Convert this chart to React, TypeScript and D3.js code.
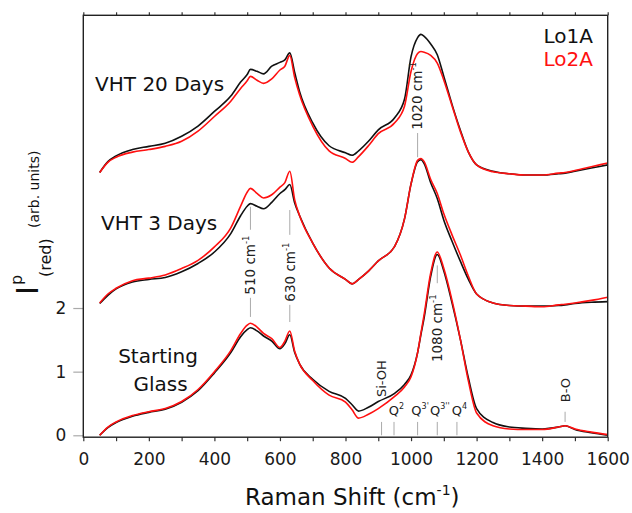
import React, { useRef, useEffect } from "react";
import * as d3 from "d3";

const W = 632;
const H = 513;

// Raman shift sample points (cm-1), shared by all spectra
const shifts = [
  50, 75, 100, 150, 200, 250, 300, 350, 400, 450, 480, 500, 510, 530, 550, 575,
  600, 615, 630, 645, 660, 700, 750, 800, 820, 840, 870, 900, 950, 980, 1000,
  1020, 1030, 1040, 1060, 1080, 1100, 1125, 1150, 1175, 1200, 1250, 1300, 1350,
  1400, 1450, 1470, 1500, 1550, 1600,
];

// Starting glass (offset 0)
const glassLo1A = [
  0, 0.12, 0.2, 0.3, 0.36, 0.41, 0.52, 0.7, 0.98, 1.3, 1.55, 1.66, 1.69, 1.64,
  1.56, 1.48, 1.36, 1.44, 1.58, 1.3, 1.12, 0.88, 0.69, 0.58, 0.48, 0.38, 0.44,
  0.53, 0.66, 0.8, 0.95, 1.3, 1.58, 1.85, 2.5, 2.84, 2.58, 2.08, 1.52, 0.9,
  0.42, 0.2, 0.13, 0.11, 0.1, 0.13, 0.15, 0.09, 0.04, 0.0,
];
const glassLo2A = [
  0, 0.13, 0.21, 0.31, 0.37, 0.42, 0.53, 0.72, 1.0, 1.33, 1.6, 1.73, 1.76, 1.7,
  1.6, 1.52, 1.38, 1.48, 1.64, 1.32, 1.12, 0.86, 0.63, 0.52, 0.4, 0.27, 0.33,
  0.42, 0.61, 0.76, 0.92, 1.3, 1.6, 1.9, 2.55, 2.88, 2.62, 2.12, 1.52, 0.85,
  0.35, 0.15, 0.1, 0.09, 0.09, 0.13, 0.15, 0.1, 0.05, 0.01,
];

// VHT 3 days
const vht3Lo1A = [
  2.07, 2.2, 2.3, 2.41, 2.45, 2.48, 2.57, 2.7, 2.88, 3.17, 3.45, 3.6, 3.64, 3.6,
  3.56, 3.66, 3.8, 3.86, 3.94, 3.65, 3.45, 3.02, 2.63, 2.45, 2.38, 2.45, 2.58,
  2.74, 2.97, 3.4, 3.95, 4.3, 4.33, 4.27, 3.97, 3.72, 3.38, 3.05, 2.74, 2.45,
  2.22, 2.08, 2.04, 2.03, 2.03, 2.04, 2.05, 2.07, 2.09, 2.1,
];
const vht3Lo2A = [
  2.08, 2.22, 2.31, 2.43, 2.47, 2.52, 2.62, 2.75, 2.96, 3.26, 3.6, 3.82, 3.88,
  3.8, 3.73, 3.78, 3.9, 3.97, 4.15, 3.7, 3.45, 3.02, 2.63, 2.45, 2.38, 2.45,
  2.58, 2.74, 2.97, 3.4, 3.95, 4.32, 4.35, 4.3, 4.02, 3.8, 3.48, 3.15, 2.84,
  2.5, 2.22, 2.08, 2.04, 2.03, 2.02, 2.05, 2.06, 2.08, 2.12, 2.17,
];

// VHT 20 days
const vht20Lo1A = [
  4.13, 4.3, 4.39, 4.49, 4.54, 4.59, 4.7, 4.86, 5.09, 5.33, 5.55, 5.67, 5.75,
  5.72, 5.68, 5.8, 5.86, 5.9, 6.01, 5.7, 5.4, 4.91, 4.55, 4.44, 4.4, 4.47, 4.62,
  4.8, 4.99, 5.28, 5.95, 6.25, 6.3, 6.27, 6.15, 5.98, 5.64, 5.2, 4.8, 4.45,
  4.25, 4.15, 4.11, 4.09, 4.09, 4.11, 4.12, 4.15, 4.2, 4.25,
];
const vht20Lo2A = [
  4.13, 4.29, 4.37, 4.45, 4.49, 4.54, 4.62, 4.78, 5.01, 5.25, 5.45, 5.57, 5.64,
  5.58, 5.53, 5.6, 5.74, 5.8, 5.97, 5.62, 5.35, 4.86, 4.47, 4.35, 4.29, 4.38,
  4.55, 4.74, 4.91, 5.17, 5.72, 6.0, 6.03, 6.02, 5.97, 5.85, 5.58, 5.18, 4.78,
  4.45, 4.25, 4.14, 4.11, 4.09, 4.09, 4.12, 4.13, 4.16, 4.22, 4.28,
];

const xTicks = d3.range(0, 1601, 100);
const yTicks = [0, 1, 2];

const BLACK = "#111";
const RED = "#ff1010";

// rotated peak labels: shift, label, where the text starts (y units), guide segments
const peakLabels = [
  { shift: 1020, label: "1020 cm", start: 4.8, segs: [[4.37, 4.75]] },
  { shift: 510, label: "510 cm", start: 2.21, segs: [[1.86, 2.16], [3.23, 3.59]] },
  { shift: 630, label: "630 cm", start: 2.1, segs: [[1.78, 2.05], [3.15, 3.54]] },
  { shift: 1080, label: "1080 cm", start: 1.15, segs: [[2.39, 2.67]] },
];
const bandLabels = [
  { shift: 910, label: "Si-OH", start: 0.6, segs: [[0, 0.21]] },
  { shift: 1470, label: "B-O", start: 0.52, segs: [[0.21, 0.37]] },
];
const qSpecies = [
  { shift: 948, sup: "2" },
  { shift: 1020, sup: "3'" },
  { shift: 1080, sup: "3''" },
  { shift: 1140, sup: "4" },
];

const App = () => {
  const ref = useRef<SVGSVGElement | null>(null);

  useEffect(() => {
    if (!ref.current) return;
    const svg = d3.select(ref.current);
    svg.selectAll("*").remove();

    const margin = { top: 15.3, right: 24.3, bottom: 75.8, left: 83.3 };
    const x = d3
      .scaleLinear()
      .domain([0, 1600])
      .range([margin.left, W - margin.right]);
    const y = d3
      .scaleLinear()
      .domain([-0.03, 6.6])
      .range([H - margin.bottom, margin.top]);

    const line = d3
      .line<number>()
      .x((_, i) => x(shifts[i]))
      .y((d) => y(d))
      .curve(d3.curveMonotoneX);

    const series = [
      { values: vht20Lo1A, color: BLACK },
      { values: vht20Lo2A, color: RED },
      { values: vht3Lo1A, color: BLACK },
      { values: vht3Lo2A, color: RED },
      { values: glassLo1A, color: BLACK },
      { values: glassLo2A, color: RED },
    ];

    series.forEach((s) => {
      svg
        .append("path")
        .attr("d", line(s.values))
        .attr("fill", "none")
        .attr("stroke", s.color)
        .attr("stroke-width", 1.6)
        .attr("stroke-linejoin", "round");
    });

    // axes
    const bottom = svg
      .append("g")
      .attr("transform", `translate(0,${y(-0.03)})`)
      .call(
        d3
          .axisBottom(x)
          .tickValues(xTicks)
          .tickSize(4)
          .tickPadding(11.5)
          .tickFormat((d) => (+d % 200 === 0 ? String(d) : ""))
      );
    bottom.select(".domain").remove();
    bottom.selectAll(".tick line").attr("stroke", "#333").attr("stroke-width", 1.2);
    bottom
      .selectAll("text")
      .attr("font-size", 17)
      .attr("font-family", "DejaVu Sans")
      .attr("fill", "#1a1a1a");

    const top = svg
      .append("g")
      .attr("transform", `translate(0,${margin.top})`)
      .call(d3.axisTop(x).tickValues(xTicks).tickSize(3).tickFormat(() => ""));
    top.select(".domain").remove();
    top.selectAll(".tick line").attr("stroke", "#333").attr("stroke-width", 1.2);

    const left = svg
      .append("g")
      .attr("transform", `translate(${margin.left},0)`)
      .call(
        d3
          .axisLeft(y)
          .tickValues(yTicks)
          .tickSize(10)
          .tickPadding(7)
          .tickFormat(d3.format("d"))
      );
    left.select(".domain").remove();
    left.selectAll(".tick line").attr("stroke", "#aaa").attr("stroke-width", 1.2);
    left
      .selectAll("text")
      .attr("font-size", 17)
      .attr("font-family", "DejaVu Sans")
      .attr("fill", "#1a1a1a");

    svg
      .append("rect")
      .attr("x", margin.left)
      .attr("y", margin.top)
      .attr("width", W - margin.left - margin.right)
      .attr("height", y(-0.03) - margin.top)
      .attr("fill", "none")
      .attr("stroke", "#222")
      .attr("stroke-width", 1.4);

    // guide segments
    const guide = (shift: number, a: number, b: number) =>
      svg
        .append("line")
        .attr("x1", x(shift))
        .attr("x2", x(shift))
        .attr("y1", y(a))
        .attr("y2", y(b))
        .attr("stroke", "#aaa")
        .attr("stroke-width", 1);

    const rotated = (shift: number, start: number, fs: number) =>
      svg
        .append("text")
        .attr(
          "transform",
          `translate(${x(shift) + fs * 0.36},${y(start)}) rotate(-90)`
        )
        .attr("font-size", fs)
        .attr("fill", "#222");

    peakLabels.forEach((p) => {
      p.segs.forEach(([a, b]) => guide(p.shift, a, b));
      const t = rotated(p.shift, p.start, 13.5);
      t.append("tspan").text(p.label);
      t.append("tspan").attr("font-size", 8.5).attr("dy", -6).text("-1");
    });

    bandLabels.forEach((p) => {
      p.segs.forEach(([a, b]) => guide(p.shift, a, b));
      rotated(p.shift, p.start, 13).text(p.label);
    });

    qSpecies.forEach((q) => {
      guide(q.shift, 0, 0.21);
      const t = svg
        .append("text")
        .attr("x", x(q.shift) + 2.5)
        .attr("y", y(0.32))
        .attr("text-anchor", "middle")
        .attr("font-size", 13)
        .attr("fill", "#222");
      t.append("tspan").text("Q");
      t.append("tspan").attr("font-size", 8).attr("dy", -6).text(q.sup);
    });

    // sample labels
    const label = (
      sx: number,
      sy: number,
      text: string,
      anchor = "start",
      color = "#111"
    ) =>
      svg
        .append("text")
        .attr("x", x(sx))
        .attr("y", y(sy))
        .attr("text-anchor", anchor)
        .attr("font-size", 20)
        .attr("fill", color)
        .text(text);

    label(36, 5.41, "VHT 20 Days");
    label(54, 3.23, "VHT 3 Days");
    label(228, 1.14, "Starting", "middle");
    label(236, 0.7, "Glass", "middle");
    label(1555, 6.17, "Lo1A", "end", BLACK);
    label(1555, 5.8, "Lo2A", "end", RED);

    // x title
    const xt = svg
      .append("text")
      .attr("x", 245)
      .attr("y", 505)
      .attr("font-size", 23)
      .attr("fill", "#111");
    xt.append("tspan").text("Raman Shift (cm");
    xt.append("tspan").attr("font-size", 14).attr("dy", -10).text("-1");
    xt.append("tspan").attr("dy", 10).text(")");

    // y title
    const yt = (bx: number, by: number, fs: number, text: string) =>
      svg
        .append("text")
        .attr("transform", `translate(${bx},${by}) rotate(-90)`)
        .attr("font-size", fs)
        .attr("fill", "#111")
        .text(text);
    yt(38, 295, 31, "I");
    yt(22, 285, 16, "p");
    yt(51, 277, 16, "(red)");
    yt(38.5, 228, 14, "(arb. units)");
  }, []);

  return (
    <svg
      ref={ref}
      width={W}
      height={H}
      style={{
        position: "absolute",
        left: 0,
        top: 0,
        background: "#fff",
        fontFamily: "DejaVu Sans",
      }}
    />
  );
};

export default App;
